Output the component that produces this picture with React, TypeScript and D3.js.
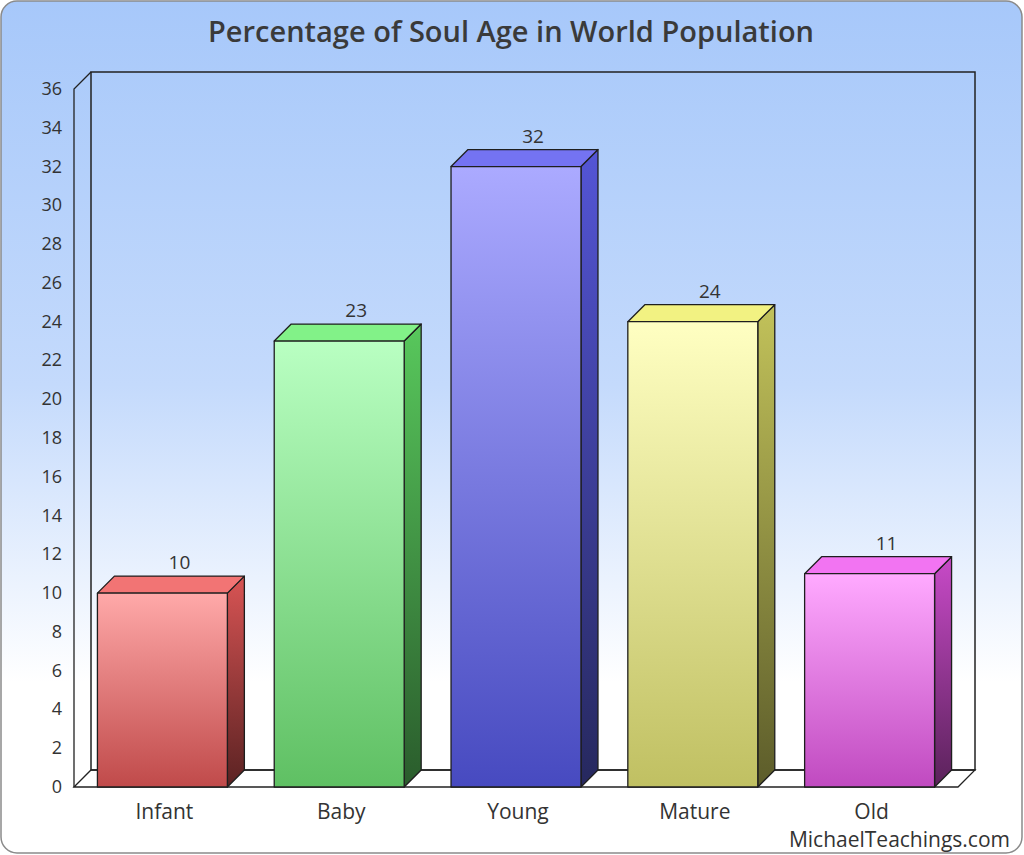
import * as React from "react";
import * as d3 from "d3";

const categories = ["Infant", "Baby", "Young", "Mature", "Old"];
const values = [10, 23, 32, 24, 11];
const yTicks = d3.range(0, 37, 2);

// front top, front bottom, top face, side top, side bottom
const palette = [
  ["#ffa9a9", "#c04a4a", "#f27474", "#d85454", "#5a2222"],
  ["#b9ffc2", "#5fc063", "#82f288", "#58c85c", "#2a5c2c"],
  ["#abaaff", "#474ac0", "#7473f2", "#5455d6", "#26285e"],
  ["#ffffc2", "#c0c062", "#f2f282", "#c2c25a", "#5c5c2a"],
  ["#ffaaff", "#c04ac0", "#f274f2", "#c84ac8", "#5a225a"],
];

const W = 1024;
const H = 855;
const depth = 17;
const left = 74;
const right = 958;
const yBase = 787;
const yTop = 89;

export default function App() {
  const x = d3
    .scaleBand<string>()
    .domain(categories)
    .range([left, right])
    .paddingInner(0.265)
    .paddingOuter(0.1325);
  const y = d3.scaleLinear().domain([0, 36]).range([yBase, yTop]);
  const bw = x.bandwidth();
  const font = "'Open Sans', 'Noto Sans', sans-serif";

  return (
    <div style={{ position: "absolute", left: 0, top: 0 }}>
      <svg width={W} height={H} style={{ display: "block" }}>
        <defs>
          <linearGradient id="bg" x1="0" y1="0" x2="0" y2="1">
            <stop offset="0" stopColor="#a7c8fa" />
            <stop offset="0.45" stopColor="#c4dafc" />
            <stop offset="0.8" stopColor="#ffffff" />
            <stop offset="1" stopColor="#ffffff" />
          </linearGradient>
          {palette.map((p, i) => (
            <React.Fragment key={i}>
              <linearGradient id={`front${i}`} x1="0" y1="0" x2="0" y2="1">
                <stop offset="0" stopColor={p[0]} />
                <stop offset="1" stopColor={p[1]} />
              </linearGradient>
              <linearGradient id={`side${i}`} x1="0" y1="0" x2="0" y2="1">
                <stop offset="0" stopColor={p[3]} />
                <stop offset="1" stopColor={p[4]} />
              </linearGradient>
            </React.Fragment>
          ))}
        </defs>

        <rect x={1} y={1} width={W - 3} height={H - 3} rx={16} fill="url(#bg)" stroke="#8a8a8a" strokeWidth={1.5} />

        <text x={511} y={42} textAnchor="middle" fontFamily={font} fontSize={29} fontWeight={600} fill="#3a3a3a">
          Percentage of Soul Age in World Population
        </text>

        {/* floor */}
        <polygon
          points={`${left},${yBase} ${left + depth},${yBase - depth} ${right + depth},${yBase - depth} ${right},${yBase}`}
          fill="#ffffff"
          stroke="#222"
          strokeWidth={1.3}
        />
        {/* back wall */}
        <rect
          x={left + depth}
          y={yTop - depth}
          width={right - left}
          height={yBase - yTop}
          fill="none"
          stroke="#222"
          strokeWidth={1.5}
        />
        {/* left wall */}
        <path
          d={`M${left},${yBase} L${left},${yTop} L${left + depth},${yTop - depth}`}
          fill="none"
          stroke="#222"
          strokeWidth={1.3}
        />

        {yTicks.map((t) => (
          <text key={t} x={62} y={y(t) + 6} textAnchor="end" fontFamily={font} fontSize={18} fill="#333">
            {t}
          </text>
        ))}

        {values.map((v, i) => {
          const x0 = x(categories[i]) as number;
          const x1 = x0 + bw;
          const yt = y(v);
          return (
            <g key={categories[i]} stroke="#1e1e1e" strokeWidth={1.3} strokeLinejoin="round">
              <polygon
                points={`${x1},${yt} ${x1 + depth},${yt - depth} ${x1 + depth},${yBase - depth} ${x1},${yBase}`}
                fill={`url(#side${i})`}
              />
              <polygon
                points={`${x0},${yt} ${x0 + depth},${yt - depth} ${x1 + depth},${yt - depth} ${x1},${yt}`}
                fill={palette[i][2]}
              />
              <rect x={x0} y={yt} width={bw} height={yBase - yt} fill={`url(#front${i})`} />
              <text
                x={x0 + depth + bw / 2}
                y={yt - depth - 7}
                textAnchor="middle"
                fontFamily={font}
                fontSize={19}
                fill="#333"
                stroke="none"
              >
                {v}
              </text>
            </g>
          );
        })}

        {categories.map((c) => (
          <text
            key={c}
            x={(x(c) as number) + bw / 2 + 2}
            y={819}
            textAnchor="middle"
            fontFamily={font}
            fontSize={21}
            fill="#333"
          >
            {c}
          </text>
        ))}

        <text x={1010} y={847} textAnchor="end" fontFamily={font} fontSize={21} fill="#333">
          MichaelTeachings.com
        </text>
      </svg>
    </div>
  );
}
